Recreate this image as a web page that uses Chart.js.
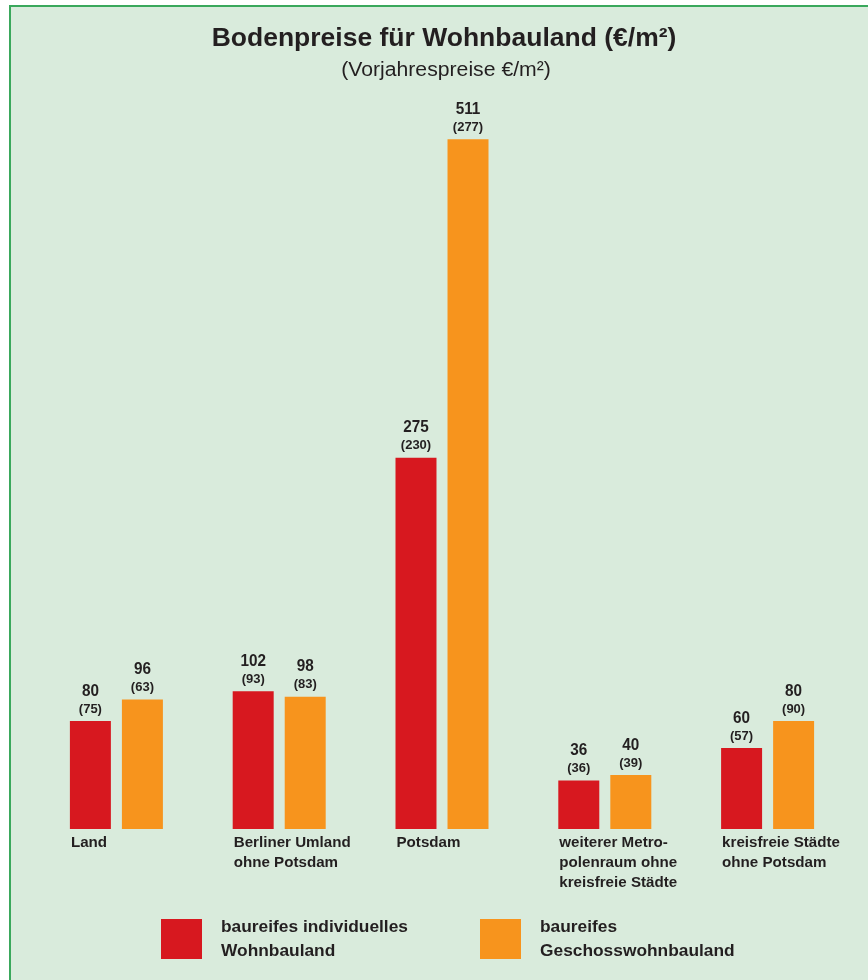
<!DOCTYPE html>
<html>
<head>
<meta charset="utf-8">
<script src="https://cdn.jsdelivr.net/npm/chart.js@4/dist/chart.umd.min.js"></script>
<style>
html,body{margin:0;padding:0;background:#ffffff;}
#c{display:block;}
</style>
</head>
<body>
<canvas id="c" width="868" height="980"></canvas>
<script>
// ---- data ----
const categories = [
  ["Land"],
  ["Berliner Umland", "ohne Potsdam"],
  ["Potsdam"],
  ["weiterer Metro-", "polenraum ohne", "kreisfreie Städte"],
  ["kreisfreie Städte", "ohne Potsdam"]
];
const individuell = [80, 102, 275, 36, 60];
const individuellVorjahr = [75, 93, 230, 36, 57];
const geschoss = [96, 98, 511, 40, 80];
const geschossVorjahr = [63, 83, 277, 39, 90];
const seriesLabels = [
  ["baureifes individuelles", "Wohnbauland"],
  ["baureifes", "Geschosswohnbauland"]
];
const previousValues = [individuellVorjahr, geschossVorjahr];
const titleText = "Bodenpreise für Wohnbauland (€/m²)";
const subtitleText = "(Vorjahrespreise €/m²)";

const RED = "#d7181f";
const ORANGE = "#f7941d";
const TEXT = "#231f20";
const FONT = '"Liberation Sans", Arial, Helvetica, sans-serif';

function drawText(ctx, txt, x, y, font, align, sx) {
  ctx.save();
  ctx.font = font;
  ctx.textAlign = align;
  ctx.textBaseline = "middle";
  ctx.fillStyle = TEXT;
  ctx.translate(x, y);
  ctx.scale(sx || 1, 1);
  ctx.fillText(txt, 0, 0);
  ctx.restore();
}

const framePlugin = {
  id: "frame",
  beforeDraw(chart) {
    const ctx = chart.ctx;
    ctx.save();
    ctx.fillStyle = "#ffffff";
    ctx.fillRect(0, 0, chart.width, chart.height);
    ctx.fillStyle = "#d9ebdc";
    ctx.fillRect(9, 5, chart.width - 9, chart.height - 5);
    ctx.strokeStyle = "#3aa85c";
    ctx.lineWidth = 2;
    ctx.beginPath();
    ctx.moveTo(10, chart.height);
    ctx.lineTo(10, 6);
    ctx.lineTo(chart.width, 6);
    ctx.stroke();
    ctx.restore();
  }
};

const labelPlugin = {
  id: "labels",
  afterDatasetsDraw(chart) {
    const ctx = chart.ctx;
    const area = chart.chartArea;
    // title
    drawText(ctx, titleText, 444, 39, "bold 25px " + FONT, "center", 1.06);
    drawText(ctx, subtitleText, 446, 70, "20px " + FONT, "center", 1.06);
    // value labels
    chart.data.datasets.forEach((ds, di) => {
      const meta = chart.getDatasetMeta(di);
      meta.data.forEach((el, i) => {
        const top = el.y;
        drawText(ctx, String(ds.data[i]), el.x, top - 30, "bold 17px " + FONT, "center", 0.9);
        drawText(ctx, "(" + previousValues[di][i] + ")", el.x, top - 12, "bold 13px " + FONT, "center", 1);
      });
    });
    // category labels, left aligned under first bar
    const meta0 = chart.getDatasetMeta(0);
    chart.data.labels.forEach((lines, i) => {
      const el = meta0.data[i];
      const left = el.x - el.width / 2 + 1;
      lines.forEach((ln, k) => {
        drawText(ctx, ln, left, area.bottom + 14 + k * 20, "bold 15px " + FONT, "left", 1.01);
      });
    });
    // legend
    const legendX = [161, 480];
    chart.data.datasets.forEach((ds, di) => {
      const x = legendX[di];
      ctx.save();
      ctx.fillStyle = ds.backgroundColor;
      ctx.fillRect(x, 919, 41, 40);
      ctx.restore();
      seriesLabels[di].forEach((ln, k) => {
        drawText(ctx, ln, x + 60, 927 + k * 24, "bold 17px " + FONT, "left", 1.02);
      });
    });
  }
};

new Chart(document.getElementById("c"), {
  type: "bar",
  data: {
    labels: categories,
    datasets: [
      { label: seriesLabels[0].join(" "), data: individuell, backgroundColor: RED, borderWidth: 0 },
      { label: seriesLabels[1].join(" "), data: geschoss, backgroundColor: ORANGE, borderWidth: 0 }
    ]
  },
  options: {
    responsive: false,
    animation: false,
    devicePixelRatio: 1,
    layout: { padding: { left: 35, right: 19, top: 19, bottom: 151 } },
    categoryPercentage: 0.639,
    barPercentage: 0.788,
    plugins: { legend: { display: false }, tooltip: { enabled: false }, title: { display: false } },
    scales: {
      x: { display: false },
      y: { display: false, min: 0, max: 600 }
    }
  },
  plugins: [framePlugin, labelPlugin]
});
</script>
</body>
</html>
